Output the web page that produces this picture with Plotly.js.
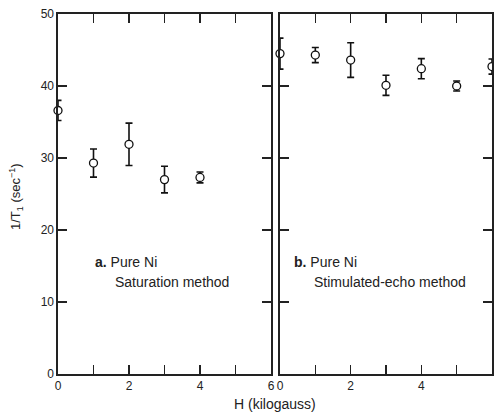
<!DOCTYPE html>
<html>
<head>
<meta charset="utf-8">
<script src="https://cdn.plot.ly/plotly-3.0.1.min.js"></script>
<style>html,body{margin:0;padding:0;background:#fff;}#chart{width:494px;height:412px;}</style>
</head>
<body>
<div id="chart"></div>
<script>
// Panel a: Pure Ni, saturation method
const satField = [0, 1, 2, 3, 4];
const satRate = [36.6, 29.3, 31.9, 27.0, 27.3];
const satErr = [1.4, 1.95, 2.95, 1.85, 0.75];

// Panel b: Pure Ni, stimulated-echo method
const echoField = [0, 1, 2, 3, 4, 5, 6];
const echoRate = [44.5, 44.3, 43.6, 40.1, 42.4, 40.0, 42.7];
const echoErr = [2.15, 1.05, 2.4, 1.4, 1.4, 0.7, 1.05];

const xTickVals = [0, 1, 2, 3, 4, 5, 6];
const xTickText = ['0', '', '2', '', '4', '', '6'];
const yTickVals = [0, 10, 20, 30, 40, 50];

const FONT = '"Liberation Sans", Arial, sans-serif';

function series(x, y, err, xa, ya) {
  return {
    x: x, y: y, xaxis: xa, yaxis: ya,
    type: 'scatter', mode: 'markers', cliponaxis: false, showlegend: false,
    marker: {symbol: 'circle', size: 8, color: '#ffffff', line: {color: '#111', width: 1.3}},
    error_y: {type: 'data', array: err, visible: true, color: '#111', thickness: 1.6, width: 3.5}
  };
}

const axisX = {
  range: [0, 6], tickvals: xTickVals, ticktext: xTickText,
  ticks: 'inside', ticklen: 9, tickwidth: 1.2, tickcolor: '#222',
  showline: true, linecolor: '#222', linewidth: 1.6, mirror: 'ticks',
  showgrid: false, zeroline: false,
  tickfont: {family: FONT, size: 12, color: '#222'}
};
const axisY = {
  range: [0, 50], tickvals: yTickVals,
  ticks: 'inside', ticklen: 9, tickwidth: 1.2, tickcolor: '#222',
  showline: true, linecolor: '#222', linewidth: 1.6, mirror: 'ticks',
  showgrid: false, zeroline: false,
  tickfont: {family: FONT, size: 12, color: '#222'}
};

const layout = {
  width: 494, height: 412,
  margin: {l: 58, r: 2, t: 14, b: 38},
  paper_bgcolor: '#fff', plot_bgcolor: '#fff',
  xaxis: Object.assign({}, axisX, {domain: [0, 0.4908], anchor: 'y'}),
  yaxis: Object.assign({}, axisY, {anchor: 'x'}),
  xaxis2: Object.assign({}, axisX, {domain: [0.5115, 1], anchor: 'y2'}),
  yaxis2: Object.assign({}, axisY, {anchor: 'x2', showticklabels: false}),
  annotations: [
    {xref: 'x', yref: 'y', x: 0.99, y: 15.6, xanchor: 'left', yanchor: 'middle', showarrow: false,
     text: '<b>a.</b> Pure Ni', font: {family: FONT, size: 14, color: '#222'}},
    {xref: 'x', yref: 'y', x: 1.55, y: 12.8, xanchor: 'left', yanchor: 'middle', showarrow: false,
     text: 'Saturation method', font: {family: FONT, size: 14, color: '#222'}},
    {xref: 'x2', yref: 'y2', x: 0.34, y: 15.6, xanchor: 'left', yanchor: 'middle', showarrow: false,
     text: '<b>b.</b> Pure Ni', font: {family: FONT, size: 14, color: '#222'}},
    {xref: 'x2', yref: 'y2', x: 0.91, y: 12.8, xanchor: 'left', yanchor: 'middle', showarrow: false,
     text: 'Stimulated-echo method', font: {family: FONT, size: 14, color: '#222'}},
    {xref: 'paper', yref: 'paper', x: 0.5, y: -0.083, xanchor: 'center', yanchor: 'middle', showarrow: false,
     text: 'H (kilogauss)', font: {family: FONT, size: 14, color: '#222'}},
    {xref: 'paper', yref: 'paper', x: -0.097, y: 0.494, xanchor: 'center', yanchor: 'middle', showarrow: false,
     textangle: -90, text: '1/T<sub>1</sub> (sec<sup>−1</sup>)', font: {family: FONT, size: 13, color: '#222'}}
  ]
};

Plotly.newPlot('chart', [
  series(satField, satRate, satErr, 'x', 'y'),
  series(echoField, echoRate, echoErr, 'x2', 'y2')
], layout, {staticPlot: true, displayModeBar: false});
</script>
</body>
</html>
